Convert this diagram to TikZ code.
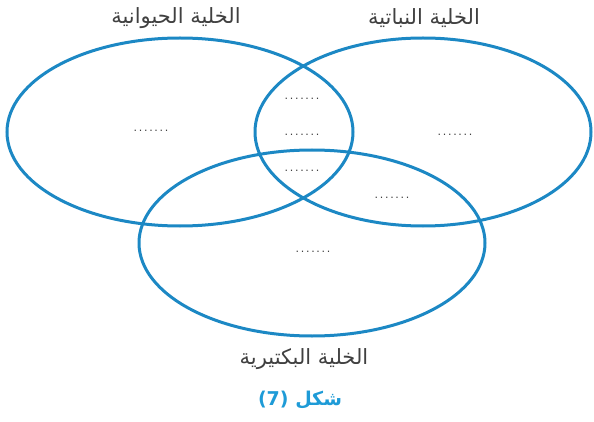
\documentclass[tikz,border=0pt]{standalone}
\usepackage{fontspec}
\setmainfont{DejaVu Sans}
\newfontfamily\arabicfont[Script=Arabic]{DejaVu Sans}
\TeXXeTstate=1
\definecolor{vennblue}{HTML}{1C88C4}
\definecolor{figblue}{HTML}{1E9BD7}
\newcommand{\blankdots}{\foreach\i in {1,...,7}{\makebox[5.2pt]{.}}}

\begin{document}
\begin{tikzpicture}[x=1pt,y=-1pt,
  set/.style={draw=vennblue,line width=3pt},
  lab/.style={font=\fontsize{21}{24}\selectfont\arabicfont,text=black!75},
  blank/.style={font=\fontsize{11}{12}\selectfont,text=black!75,inner sep=0pt}]
\useasboundingbox (0,0) rectangle (594,422);
% the three sets
\draw[set] (180,132) ellipse [x radius=173,y radius=94];
\draw[set] (423,132) ellipse [x radius=168,y radius=94];
\draw[set] (312,243) ellipse [x radius=173,y radius=93];
% titles
\node[lab] (animal) at (176,18) {\beginR الخلية الحيوانية\endR};
\node[lab] (plant) at (424,18) {\beginR الخلية النباتية\endR};
\node[lab] (bacteria) at (304,359) {\beginR الخلية البكتيرية\endR};
\node[font=\fontsize{19}{22}\selectfont\bfseries\arabicfont,text=figblue] (fig) at (300,400) {\beginR شكل (7)\endR};
% places to fill in
\foreach \p/\x/\y in {onlyA/151/131,AP/302/99,APB/302/135,AB/302/171,onlyP/455/135,PB/392/198,onlyB/313/252}
  \node[blank] (\p) at (\x,\y) {\blankdots};
\end{tikzpicture}
\end{document}
